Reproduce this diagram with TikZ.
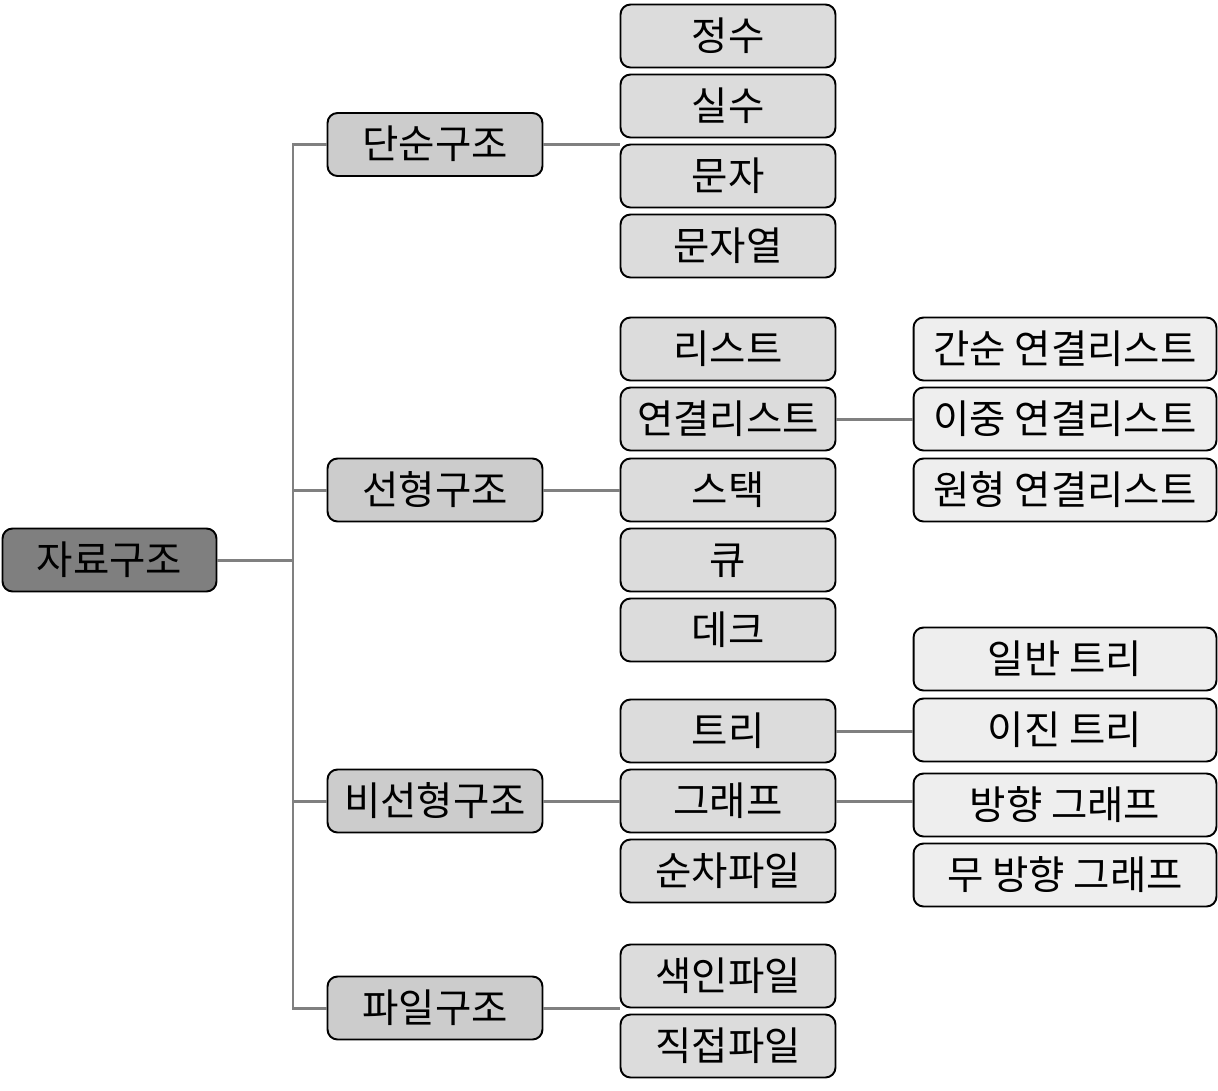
\documentclass[tikz,border=0pt]{standalone}
\usepackage{fontspec}
\setmainfont{Noto Sans CJK KR}
\usepackage{tikz}
\usetikzlibrary{positioning,calc}
\definecolor{rootgray}{RGB}{127, 127, 127}
\definecolor{groupgray}{RGB}{204, 204, 204}
\definecolor{itemgray}{RGB}{220, 220, 220}
\definecolor{subgray}{RGB}{238, 238, 238}
\definecolor{linkgray}{RGB}{128, 128, 128}

\begin{document}
\begin{tikzpicture}[x=0.02cm, y=-0.02cm,
    box/.style={draw=black, line width=1.1pt, rounded corners=0.2cm, inner sep=0pt,
        minimum height=1.26cm, text height=18pt, text depth=1.6pt,
        font=\fontsize{22.5}{27}\selectfont},
    rootbox/.style={box, fill=rootgray, minimum width=4.28cm},
    groupbox/.style={box, fill=groupgray, minimum width=4.30cm},
    itembox/.style={box, fill=itemgray, minimum width=4.30cm},
    subbox/.style={box, fill=subgray, minimum width=6.06cm},
    conn/.style={draw=linkgray, line width=1.7pt}]
    \useasboundingbox (0,0) rectangle (1218,1090);

    % Root
    \node[rootbox] (root) at (109.5,560) {자료구조};

    % Groups
    \node[groupbox] (simple) at (435,144.5) {단순구조};
    \node[groupbox] (linear) at (435,490) {선형구조};
    \node[groupbox] (nonlin) at (435,801) {비선형구조};
    \node[groupbox] (file) at (435,1008) {파일구조};

    % Simple items
    \node[itembox] (int) at (728,36) {정수};
    \node[itembox] (real) at (728,106) {실수};
    \node[itembox] (char) at (728,176) {문자};
    \node[itembox] (str) at (728,246) {문자열};

    % Linear items
    \node[itembox] (list) at (728,349) {리스트};
    \node[itembox] (linked) at (728,419) {연결리스트};
    \node[itembox] (stack) at (728,490) {스택};
    \node[itembox] (queue) at (728,560) {큐};
    \node[itembox] (deque) at (728,630) {데크};

    % Nonlinear items
    \node[itembox] (tree) at (728,731) {트리};
    \node[itembox] (graph) at (728,801) {그래프};
    \node[itembox] (seqfile) at (728,871) {순차파일};

    % File items
    \node[itembox] (idxfile) at (728,976) {색인파일};
    \node[itembox] (dirfile) at (728,1046) {직접파일};

    % Sub items
    \node[subbox] (single) at (1065,349) {간순 연결리스트};
    \node[subbox] (double) at (1065,419) {이중 연결리스트};
    \node[subbox] (circular) at (1065,490) {원형 연결리스트};
    \node[subbox] (gentree) at (1065,659) {일반 트리};
    \node[subbox] (bintree) at (1065,730) {이진 트리};
    \node[subbox] (dirgraph) at (1065,805) {방향 그래프};
    \node[subbox] (undgraph) at (1065,875) {무 방향 그래프};

    % Trunk
    \coordinate (trunk) at (293,560);
    \draw[conn] (root.east) -- (trunk);
    \draw[conn] (simple.west) -| (trunk |- file.west) -- (file.west);
    \draw[conn] (trunk |- linear.west) -- (linear.west);
    \draw[conn] (trunk |- nonlin.west) -- (nonlin.west);

    % Groups to items
    \draw[conn] (simple.east) -- (simple.east -| real.west);
    \draw[conn] (linear.east) -- (stack.west);
    \draw[conn] (nonlin.east) -- (graph.west);
    \draw[conn] (file.east) -- (file.east -| idxfile.west);

    % Items to sub items
    \draw[conn] (linked.east) -- (double.west);
    \draw[conn] (tree.east) -- (tree.east -| bintree.west);
    \draw[conn] (graph.east) -- (graph.east -| dirgraph.west);
\end{tikzpicture}
\end{document}
